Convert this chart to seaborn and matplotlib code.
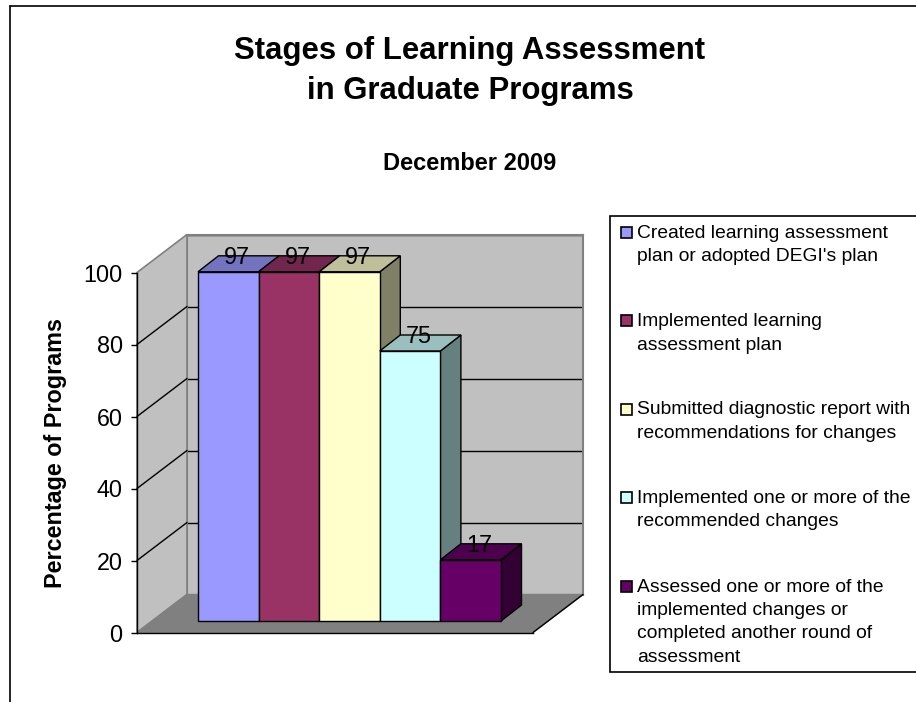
import matplotlib
matplotlib.use("Agg")
import matplotlib.pyplot as plt
from matplotlib.lines import Line2D
from matplotlib.patches import Polygon, Rectangle
from matplotlib.transforms import Affine2D, IdentityTransform
import numpy as np
import pandas as pd
import seaborn as sns

categories = [
    "Created learning assessment\nplan or adopted DEGI's plan",
    "Implemented learning\nassessment plan",
    "Submitted diagnostic report with\nrecommendations for changes",
    "Implemented one or more of the\nrecommended changes",
    "Assessed one or more of the\nimplemented changes or\ncompleted another round of\nassessment",
]
values = [97, 97, 97, 75, 17]
colors = ["#9999FF", "#993366", "#FFFFCC", "#CCFFFF", "#660066"]
y_ticks = [0, 20, 40, 60, 80, 100]
title_lines = "Stages of Learning Assessment\nin Graduate Programs"
subtitle = "December 2009"
y_label = "Percentage of Programs"

W, H = 916, 702
sns.set_theme(style="white")
plt.rcParams["font.family"] = ["Liberation Sans", "DejaVu Sans"]
fig = plt.figure(figsize=(W / 100, H / 100), dpi=100, facecolor="white")
px = Affine2D().scale(1 / W, -1 / H).translate(0, 1) + fig.transFigure


def axes_px(l, t, r, b, **kw):
    return fig.add_axes([l / W, 1 - b / H, (r - l) / W, (b - t) / H], **kw)


def shade(c, f):
    return tuple(v * f for v in matplotlib.colors.to_rgb(c))


# box geometry in reference pixels
L, R, Y0, Y100 = 137, 533, 632.5, 272.5
DX, DY = 50, 38
WALL = "#C0C0C0"
FLOOR = "#808080"

# back wall
wall = axes_px(L + DX, Y100 - DY, R + DX, Y0 - DY, facecolor=WALL, zorder=0)
wall.set_ylim(0, 100)
wall.set_xticks([])
wall.set_yticks(y_ticks)
wall.tick_params(left=False, labelleft=False)
wall.grid(True, axis="y", color="black", lw=1)
wall.set_axisbelow(True)
for s in wall.spines.values():
    s.set_color(FLOOR)
    s.set_linewidth(1.5)

# front axes carrying the value axis, side wall and floor
front = axes_px(L, Y100, R, Y0, zorder=1)
front.patch.set_alpha(0)
front.set_ylim(0, 100)
front.set_xlim(0, 1)
front.set_xticks([])
front.set_yticks(y_ticks)
front.tick_params(axis="y", left=True, length=4.5, width=1, color="black",
                  labelsize=16.8, pad=5.8, labelcolor="black")
front.set_ylabel(y_label, fontsize=16.8, fontweight="bold", color="black")
front.yaxis.set_label_coords((67 - L) / (R - L), 0.5)
for name, s in front.spines.items():
    s.set_visible(name in ("left", "bottom"))
    s.set_color("black")
    s.set_linewidth(1)
front.add_patch(Polygon([(L, Y100), (L + DX, Y100 - DY), (L + DX, Y0 - DY), (L, Y0)],
                        closed=True, fc=WALL, ec=FLOOR, lw=1.2, transform=px,
                        clip_on=False, zorder=0.5))
front.add_patch(Polygon([(L, Y0), (L + DX, Y0 - DY), (R + DX, Y0 - DY), (R, Y0)],
                        closed=True, fc=FLOOR, ec=FLOOR, lw=1, transform=px,
                        clip_on=False, zorder=0.5))
front.add_line(Line2D([R, R + DX], [Y0, Y0 - DY], color="black", lw=1, transform=px,
                      clip_on=False, zorder=0.6))
for t in y_ticks[1:-1]:
    yy = Y0 - (Y0 - Y100) * t / 100
    front.add_line(Line2D([L, L + DX], [yy, yy - DY], color="black", lw=1,
                          transform=px, clip_on=False, zorder=0.6))

# bars: front faces come from seaborn, on their own plane inside the box
BAR_L, BAR_R, BAR_B = 198, 501, 621
ax = axes_px(BAR_L, BAR_B - (Y0 - Y100), BAR_R, BAR_B, zorder=2)
ax.patch.set_alpha(0)
df = pd.DataFrame({"stage": categories, "pct": values})
sns.barplot(data=df, x="stage", y="pct", hue="stage", palette=colors, dodge=False,
            width=1, saturation=1, edgecolor="black", linewidth=1, legend=False, ax=ax,
            order=categories, hue_order=categories)
ax.set_xlim(-0.5, 4.5)
ax.set_ylim(0, 100)
ax.set_xlabel("")
ax.set_ylabel("")
ax.set_xticks([])
ax.set_yticks([])
for s in ax.spines.values():
    s.set_visible(False)

fig.canvas.draw()
BDX, BDY = 20.5, 16
for i, (bar, c, v) in enumerate(zip(ax.patches, colors, values)):
    bar.set_zorder(3 + i + 0.5)
    bar.set_clip_on(False)
    (x0, y0), (x1, y1) = ax.transData.transform(
        [(bar.get_x(), 0), (bar.get_x() + bar.get_width(), bar.get_height())])
    ax.add_patch(Polygon([(x1, y1), (x1 + BDX, y1 + BDY), (x1 + BDX, y0 + BDY), (x1, y0)],
                         closed=True, fc=shade(c, 0.5), ec="black", lw=1,
                         transform=IdentityTransform(), clip_on=False, zorder=3 + i))
    ax.add_patch(Polygon([(x0, y1), (x1, y1), (x1 + BDX, y1 + BDY), (x0 + BDX, y1 + BDY)],
                         closed=True, fc=shade(c, 0.75), ec="black", lw=1,
                         transform=IdentityTransform(), clip_on=False, zorder=3 + i))
    ax.annotate(str(v), xy=(bar.get_x() + bar.get_width() / 2, v),
                xytext=(8.5 * 0.72, 14.5 * 0.72), textcoords="offset points",
                ha="center", va="center", fontsize=16.8, color="black",
                annotation_clip=False, zorder=20)

# titles
fig.text(470 / W, 1 - 71 / H, title_lines, ha="center", va="center", fontsize=22.4,
         fontweight="bold", color="black", linespacing=1.4)
fig.text(470 / W, 1 - 163.5 / H, subtitle, ha="center", va="center", fontsize=17,
         fontweight="bold", color="black")

# chart frame
for xs, ys in (([9.5, W], [6, 6]), ([9.5, 9.5], [6, H])):
    fig.add_artist(Line2D(xs, ys, color="black", lw=1.2, transform=px))

# legend
leg = fig.add_axes([0, 0, 1, 1], zorder=5)
leg.axis("off")
leg.add_patch(Rectangle((610, 216), W, 456, fc="white", ec="black", lw=1.2, transform=px,
                        clip_on=False))
for i, (lab, c) in enumerate(zip(categories, colors)):
    yc = 232 + 88.5 * i
    leg.add_patch(Rectangle((621, yc - 5.5), 11, 11, fc=c, ec="black", lw=1.2, transform=px))
    leg.text(637, yc - 7.5, lab, transform=px, ha="left", va="top", fontsize=13.9,
             color="black", linespacing=1.5)

fig.savefig("out.png", dpi=100)
